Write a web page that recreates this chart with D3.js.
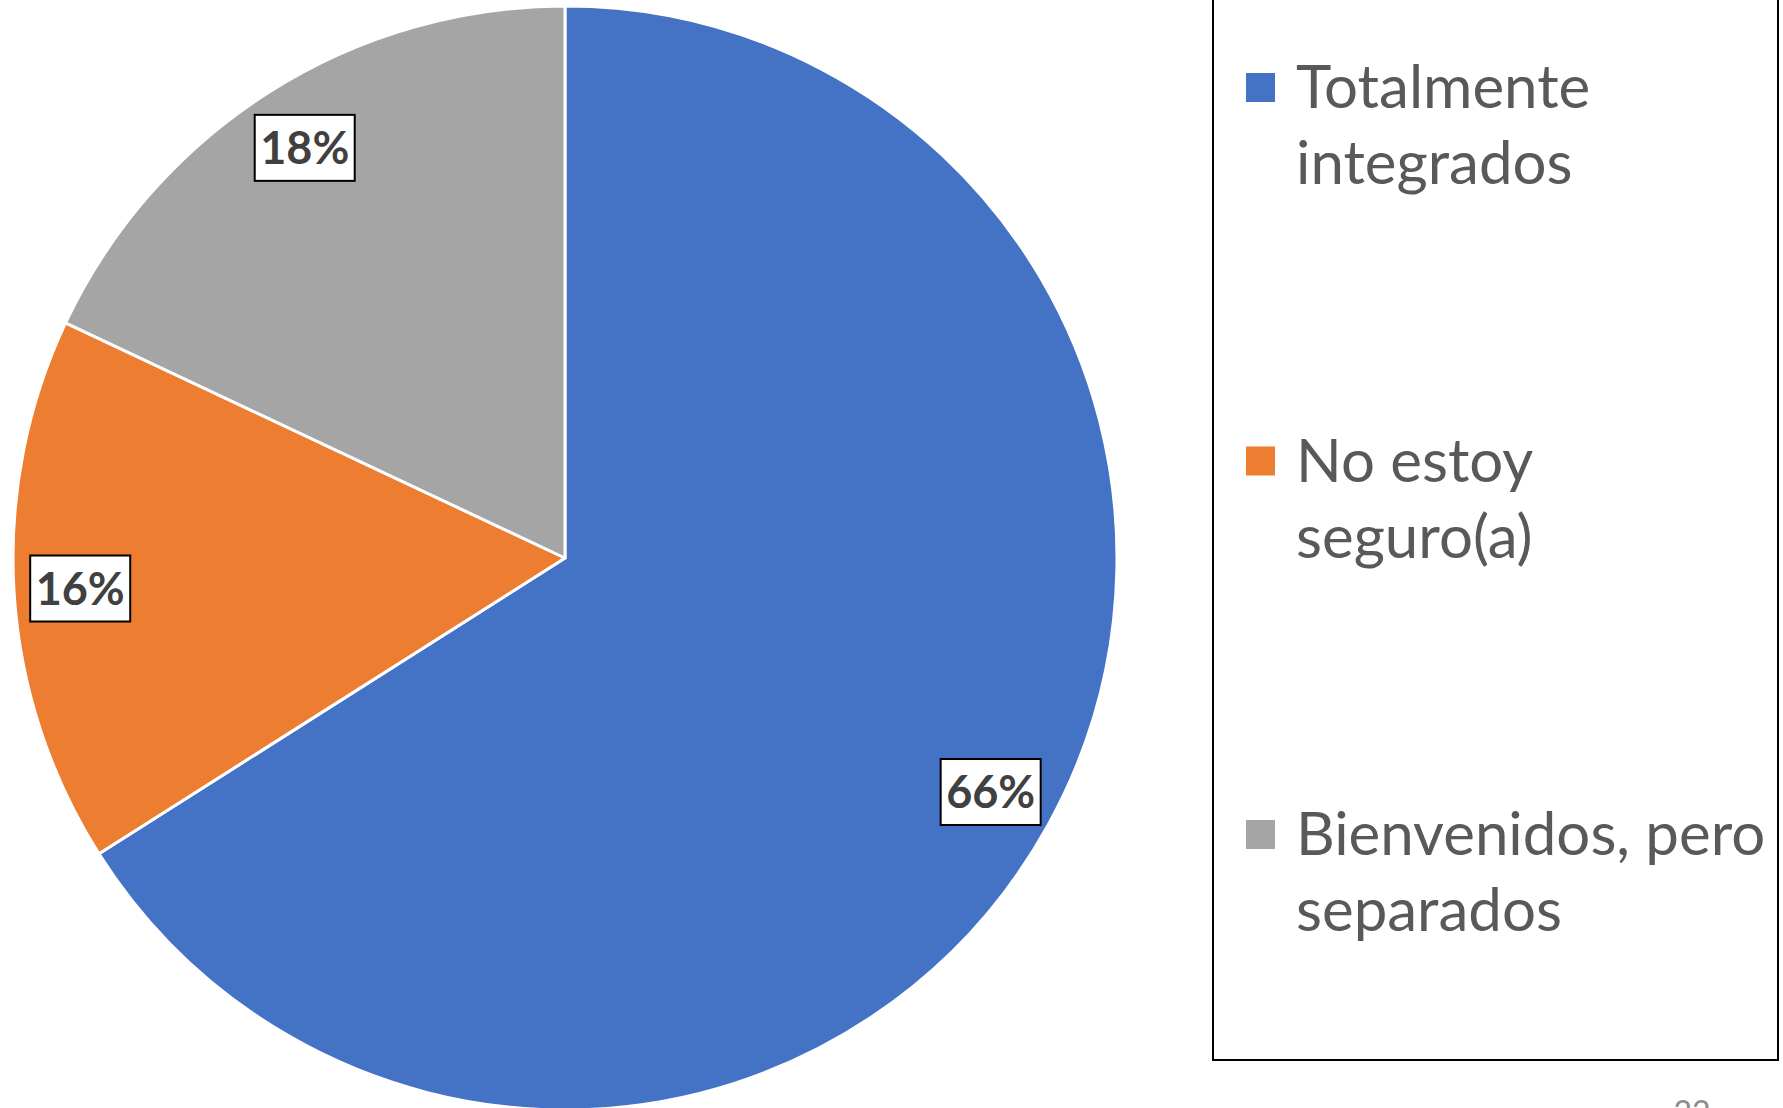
<!DOCTYPE html>
<html>

<head>
    <script src="https://d3js.org/d3.v7.min.js"></script>
    <title>Pie</title>
    <meta charset="UTF-8">
    <style type="text/css">
        body { margin: 0; background: #fff; }
        svg { display: block; }
    </style>
</head>

<body>
    <script type="text/javascript">
        // data
        var categories = ["Totalmente integrados", "No estoy seguro(a)", "Bienvenidos, pero separados"];
        var legendLines = [["Totalmente", "integrados"], ["No estoy", "seguro(a)"], ["Bienvenidos, pero", "separados"]];
        var values = [66, 16, 18];
        var colors = ["#4472C4", "#ED7D31", "#A5A5A5"];
        var pageNumber = "22";

        var width = 1783, height = 1108;
        var cx = 565, cy = 558, radius = 552;

        var svg = d3.select("body")
            .append("svg")
            .attr("width", width)
            .attr("height", height);

        var pie = d3.pie()
            .sort(null)
            .value(function (d) { return d; });

        var arc = d3.arc()
            .innerRadius(0)
            .outerRadius(radius);

        // labels sit a bit inside the rim
        var labelArc = d3.arc()
            .innerRadius(radius * 0.88)
            .outerRadius(radius * 0.88);

        var arcs = pie(values);

        var g = svg.append("g")
            .attr("transform", "translate(" + cx + "," + cy + ")");

        g.selectAll("path.slice")
            .data(arcs)
            .enter()
            .append("path")
            .attr("class", "slice")
            .attr("d", arc)
            .attr("fill", function (d, i) { return colors[i]; })
            .attr("stroke", "#fff")
            .attr("stroke-width", 3)
            .attr("stroke-linejoin", "round");

        // data labels in white boxes
        var labels = g.selectAll("g.label")
            .data(arcs)
            .enter()
            .append("g")
            .attr("class", "label")
            .attr("transform", function (d) {
                var c = labelArc.centroid(d);
                return "translate(" + c[0] + "," + c[1] + ")";
            });

        labels.append("rect")
            .attr("x", -50)
            .attr("y", -33)
            .attr("width", 100)
            .attr("height", 66)
            .attr("fill", "#fff")
            .attr("stroke", "#000")
            .attr("stroke-width", 2);

        labels.append("text")
            .attr("text-anchor", "middle")
            .attr("dy", "0.36em")
            .style("font-family", "Lato, 'Open Sans', sans-serif")
            .style("font-weight", "bold")
            .style("font-size", "45px")
            .attr("fill", "#404040")
            .text(function (d) { return d.data + "%"; });

        // legend
        svg.append("rect")
            .attr("x", 1213)
            .attr("y", -10)
            .attr("width", 565)
            .attr("height", 1070)
            .attr("fill", "none")
            .attr("stroke", "#000")
            .attr("stroke-width", 2);

        var rowY = d3.scaleLinear()
            .domain([0, categories.length - 1])
            .range([108, 855]);

        var items = svg.selectAll("g.legend")
            .data(categories)
            .enter()
            .append("g")
            .attr("class", "legend")
            .attr("transform", function (d, i) { return "translate(1246," + rowY(i) + ")"; });

        items.append("rect")
            .attr("x", 0)
            .attr("y", -35)
            .attr("width", 29)
            .attr("height", 29)
            .attr("fill", function (d, i) { return colors[i]; });

        items.append("text")
            .attr("x", 50)
            .style("font-family", "Lato, 'Open Sans', sans-serif")
            .style("font-size", "60px")
            .attr("fill", "#595959")
            .selectAll("tspan")
            .data(function (d, i) { return legendLines[i]; })
            .enter()
            .append("tspan")
            .attr("x", 50)
            .attr("dy", function (d, j) { return j === 0 ? 0 : 76; })
            .text(function (d) { return d; });

        // slide page number, cut off at the bottom like the source slide
        svg.append("text")
            .attr("x", 1692)
            .attr("y", 1124)
            .attr("text-anchor", "middle")
            .style("font-family", "Lato, sans-serif")
            .style("font-size", "32px")
            .attr("fill", "#8c8c8c")
            .text(pageNumber);
    </script>
</body>

</html>
